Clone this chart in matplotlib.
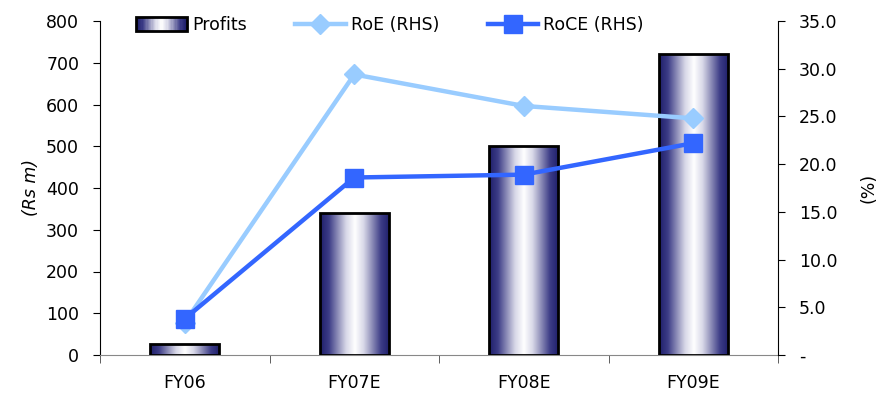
import numpy as np
import matplotlib
matplotlib.use("Agg")
import matplotlib.pyplot as plt
from matplotlib.colors import LinearSegmentedColormap
from matplotlib.patches import Rectangle
from matplotlib.legend_handler import HandlerBase
from matplotlib.ticker import FuncFormatter, FixedLocator

categories = ["FY06", "FY07E", "FY08E", "FY09E"]
profits = [27, 340, 500, 720]
roe = [3.4, 29.4, 26.1, 24.8]
roce = [3.8, 18.6, 18.9, 22.2]

plt.rcParams['font.family'] = ['DejaVu Sans']
FS = 12.5

grad_colors = ["#1e1e6a", "#3c3c86", "#8a8ab6", "#d8d8e8", "#ffffff",
               "#d8d8e8", "#8a8ab6", "#3c3c86", "#1e1e6a"]
cmap = LinearSegmentedColormap.from_list("bargrad", grad_colors)

fig = plt.figure(figsize=(8.89, 3.97), dpi=100)
ax = fig.add_axes([100/889, 1-355/397, 678/889, 334/397])
ax2 = ax.twinx()

x = np.arange(len(categories))
width = 0.41
bars = ax.bar(x, profits, width=width, color="none", edgecolor="black", linewidth=2, zorder=3)
grad = np.linspace(0, 1, 256).reshape(1, -1)
for b in bars:
    x0, y0 = b.get_x(), b.get_y()
    w, h = b.get_width(), b.get_height()
    im = ax.imshow(grad, cmap=cmap, aspect="auto", extent=[x0, x0 + w, y0, y0 + h],
                   zorder=2, interpolation="bilinear")
    im.set_clip_path(b)

ax.set_xlim(-0.5, 3.5)
ax.set_ylim(0, 800)
ax.set_yticks(np.arange(0, 801, 100))
ax.set_xticks(x)
ax.set_xticklabels(categories, fontsize=FS)
ax.tick_params(axis="x", length=0, pad=14)
ax.xaxis.set_minor_locator(FixedLocator([-0.5, 0.5, 1.5, 2.5, 3.5]))
ax.tick_params(axis="x", which="minor", length=6, direction="out", color="#444444")
ax.tick_params(axis="y", labelsize=FS, length=5, direction="out", pad=10)
ax.set_ylabel("(Rs m)", fontsize=FS, style="italic", labelpad=4)

ax.spines["top"].set_visible(False)
ax2.spines["top"].set_visible(False)
ax.spines["bottom"].set_color("#888888")
ax.spines["right"].set_visible(False)
ax2.spines["left"].set_visible(False)
ax2.spines["bottom"].set_visible(False)

l1, = ax2.plot(x, roe, color="#99ccff", lw=3.2, marker="D", markersize=10, zorder=4)
l2, = ax2.plot(x, roce, color="#3366ff", lw=3.2, marker="s", markersize=13, zorder=5)
ax2.set_ylim(0, 35)
ax2.set_yticks(np.arange(0, 35.1, 5))
ax2.yaxis.set_major_formatter(FuncFormatter(lambda v, p: "-" if abs(v) < 1e-9 else f"{v:.1f}"))
ax2.tick_params(axis="y", labelsize=FS, length=5, direction="out", pad=10)
ax2.set_ylabel("(%)", fontsize=FS, labelpad=16)

ax.set_zorder(1)
ax2.set_zorder(2)
ax2.patch.set_visible(False)


class GradHandler(HandlerBase):
    def create_artists(self, legend, orig_handle, xdescent, ydescent, width, height, fontsize, trans):
        arts = []
        n = 40
        for i in range(n):
            c = cmap((i + 0.5) / n)
            r = Rectangle((-xdescent + width * i / n, -ydescent), width / n + 0.3, height,
                          facecolor=c, edgecolor="none", transform=trans)
            arts.append(r)
        arts.append(Rectangle((-xdescent, -ydescent), width, height, facecolor="none",
                              edgecolor="black", lw=2, transform=trans))
        return arts


proxy = Rectangle((0, 0), 1, 1)
leg = fig.legend([proxy, l1, l2], ["Profits", "RoE (RHS)", "RoCE (RHS)"],
                 handler_map={Rectangle: GradHandler()}, loc="center",
                 bbox_to_anchor=(390/889, 1 - 25/397), ncol=3, frameon=False,
                 fontsize=FS, handlelength=2.9, handleheight=0.8, columnspacing=2.8,
                 handletextpad=0.3, borderaxespad=0)

fig.savefig("out.png", dpi=100)
